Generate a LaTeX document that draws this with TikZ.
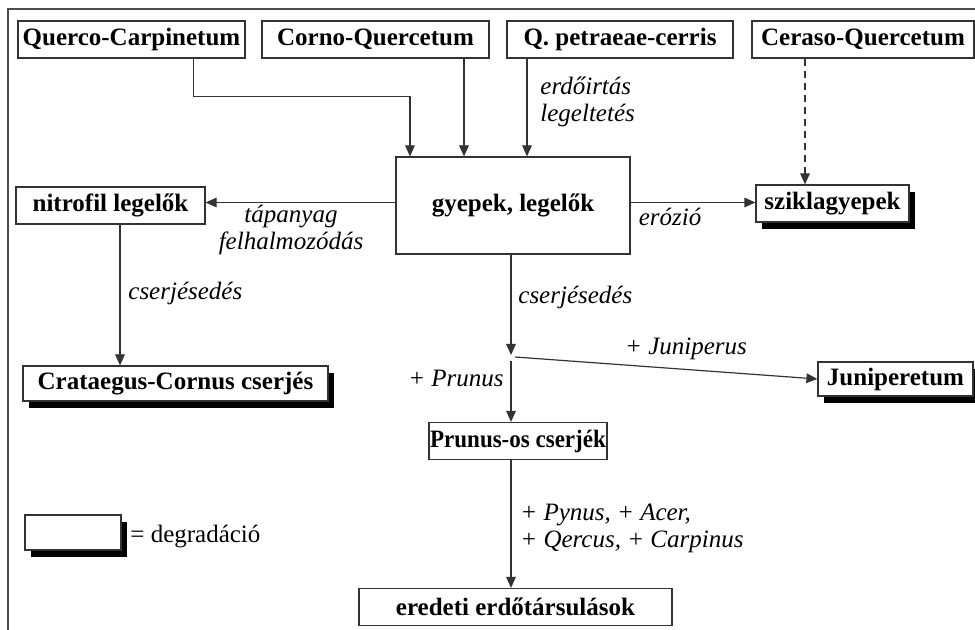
\documentclass[tikz,border=0pt]{standalone}
\usepackage{fontspec}
\setmainfont{Liberation Serif}
\usetikzlibrary{arrows.meta, shadows}

\begin{document}
\begin{tikzpicture}[x=0.5pt, y=-0.5pt,
        box/.style={draw=black!80, line width=0.6pt, fill=white, inner sep=0pt, minimum height=18.5pt, font=\fontsize{12.5pt}{14pt}\selectfont\bfseries},
        degr/.style={box, drop shadow={shadow xshift=2.75pt, shadow yshift=-3.75pt, fill=black, opacity=1}},
        arr/.style={-{Triangle[length=5.5pt, width=4.8pt]}, draw=black!80, line width=0.6pt},
        lab/.style={inner sep=0pt, align=left, font=\fontsize{12.5pt}{13.5pt}\selectfont\itshape}]
        \useasboundingbox (0,0) rectangle (975,630);
        \draw[black!70, line width=0.6pt] (8,700) -- (8,9) -- (1000,9);

        \node[box, minimum width=113.5pt] (QC) at (131.5,39.5) {Querco-Carpinetum};
        \node[box, minimum width=113.5pt] (CQ) at (375.5,39.5) {Corno-Quercetum};
        \node[box, minimum width=113pt] (QP) at (620,39.5) {Q. petraeae-cerris};
        \node[box, minimum width=111pt] (CER) at (863,39.5) {Ceraso-Quercetum};
        \node[box, minimum width=117pt, minimum height=48.5pt] (GY) at (513,205.5) {gyepek, legelők};
        \node[box, minimum width=94.5pt] (NIT) at (110.5,205.5) {nitrofil legelők};
        \node[degr, minimum width=76.5pt] (SZ) at (832.5,203.5) {sziklagyepek};
        \node[degr, minimum width=152.5pt, minimum height=17.5pt] (CC) at (175.5,383.5) {Crataegus-Cornus cserjés};
        \node[degr, minimum width=77.5pt, minimum height=17pt] (JUN) at (895.5,379) {Juniperetum};
        \node[box, minimum width=89pt] (PR) at (518,441) {\scalebox{0.92}[1]{Prunus-os cserjék}};
        \node[box, minimum width=156.5pt] (ER) at (515.5,607) {eredeti erdőtársulások};
        \node[degr, minimum width=48pt, minimum height=17.5pt] (LEG) at (73,532.5) {};
        \coordinate (J) at (511,357);

        \node[lab, anchor=west] at (540,101.5) {erdőirtás\\legeltetés};
        \node[lab, align=center] at (291,229.5) {tápanyag\\felhalmozódás};
        \node[lab] at (670,217) {erózió};
        \node[lab, anchor=west] at (128,293) {cserjésedés};
        \node[lab, anchor=west] at (518,297) {cserjésedés};
        \node[lab] at (686,349) {+ Juniperus};
        \node[lab] at (456,378) {+ Prunus};
        \node[lab, anchor=west] at (520,528.5) {+ Pynus, + Acer,\\+ Qercus, + Carpinus};
        \node[inner sep=0pt, anchor=west, font=\fontsize{12.5pt}{14pt}\selectfont] at (130,537) {= degradáció};

        \draw[arr] ([xshift=-26pt]QC.south east) -- ++(0,38) -| ([xshift=-51.5pt]GY.north);
        \draw[arr] ([xshift=44.25pt]CQ.south) -- ([xshift=44.25pt]CQ.south |- GY.north);
        \draw[arr] ([xshift=-46.5pt]QP.south) -- ([xshift=-46.5pt]QP.south |- GY.north);
        \draw[arr, dash pattern=on 3.5pt off 2.5pt] ([xshift=-29pt]CER.south) -- ([xshift=-29pt]CER.south |- SZ.north);
        \draw[arr] ([yshift=1.5pt]GY.west) -- ([yshift=1.5pt]GY.west -| NIT.east);
        \draw[arr] ([yshift=1.5pt]GY.east) -- ([yshift=1.5pt]GY.east -| SZ.west);
        \draw[arr] ([xshift=4.75pt]NIT.south) -- ([xshift=4.75pt]NIT.south |- CC.north);
        \draw[arr] (GY.south -| J) -- ([yshift=1pt]J);
        \draw[arr] ([xshift=2pt]J) -- (JUN.west);
        \draw[arr] ([yshift=-2pt]J) -- (J |- PR.north);
        \draw[arr] (J |- PR.south) -- (J |- ER.north);
\end{tikzpicture}
\end{document}
